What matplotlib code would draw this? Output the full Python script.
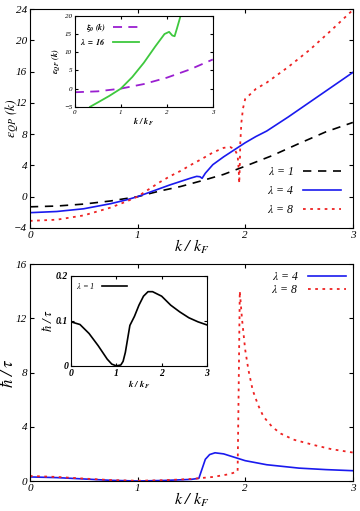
import matplotlib
matplotlib.use('Agg')
import matplotlib.pyplot as plt

plt.rcParams['font.family'] = ['Liberation Serif', 'DejaVu Serif']
plt.rcParams['font.style'] = 'italic'
plt.rcParams['mathtext.fontset'] = 'stix'
plt.rcParams['xtick.direction'] = 'in'
plt.rcParams['ytick.direction'] = 'in'
plt.rcParams['xtick.top'] = True
plt.rcParams['ytick.right'] = True

# top panel: quasiparticle energy
k1 = [0, 0.25, 0.5, 0.75, 1.0, 1.2, 1.4, 1.6, 1.8, 2.0, 2.25, 2.5, 2.75, 3.0]
e1 = [-1.3, -1.2, -0.95, -0.55, 0.0, 0.7, 1.3, 2.05, 2.85, 3.9, 5.25, 6.8, 8.3, 9.5]

k4 = [0, 0.25, 0.5, 0.75, 0.9, 1.0, 1.1, 1.2, 1.3, 1.4, 1.5, 1.55, 1.58, 1.6,
      1.63, 1.7, 1.8, 1.9, 2.0, 2.1, 2.2, 2.4, 2.6, 2.8, 3.0]
e4 = [-2.05, -1.9, -1.55, -0.9, -0.4, 0.0, 0.5, 1.0, 1.5, 1.95, 2.4, 2.6, 2.55, 2.35,
      3.0, 4.1, 5.1, 6.0, 6.9, 7.7, 8.4, 10.2, 12.1, 14.0, 15.9]

k8 = [0, 0.25, 0.5, 0.75, 0.9, 1.0, 1.1, 1.2, 1.3, 1.4, 1.5, 1.6, 1.7, 1.8, 1.86,
      1.9, 1.93, 1.94, 1.945, 1.95, 1.955, 1.965, 1.98, 2.0, 2.1, 2.2, 2.4, 2.6, 2.8, 3.0]
e8 = [-3.1, -2.95, -2.4, -1.4, -0.6, 0.0, 0.9, 1.8, 2.6, 3.3, 4.1, 4.85, 5.65, 6.25, 6.35,
      6.1, 5.3, 3.5, 1.7, 4.0, 7.0, 9.5, 11.3, 12.5, 13.8, 14.6, 16.6, 18.8, 21.3, 23.9]

# top inset
kx = [0, 0.5, 1.0, 1.5, 2.0, 2.5, 3.0]
xi0 = [-1.0, -0.75, 0.0, 1.25, 3.0, 5.25, 8.0]
k16 = [0.33, 0.5, 0.75, 1.0, 1.25, 1.5, 1.75, 1.95, 2.05, 2.12, 2.17, 2.22, 2.3, 2.35]
e16 = [-5.0, -3.8, -2.0, 0.0, 3.2, 7.1, 11.6, 15.0, 15.6, 14.6, 14.4, 16.5, 20.0, 22.0]

# bottom panel: damping
kb4 = [0, 0.25, 0.5, 0.75, 1.0, 1.25, 1.5, 1.57, 1.6, 1.63, 1.67, 1.72, 1.8, 1.9,
       2.0, 2.2, 2.5, 2.75, 3.0]
g4 = [0.3, 0.25, 0.15, 0.05, 0.0, 0.04, 0.12, 0.2, 0.9, 1.6, 1.95, 2.08, 2.0, 1.75,
      1.5, 1.2, 0.95, 0.84, 0.76]
kb8 = [0, 0.25, 0.5, 0.75, 1.0, 1.25, 1.5, 1.7, 1.85, 1.93, 1.94, 1.95, 1.97, 2.0,
       2.03, 2.07, 2.12, 2.17, 2.25, 2.33, 2.45, 2.64, 2.8, 3.0]
g8 = [0.37, 0.3, 0.18, 0.07, 0.02, 0.06, 0.15, 0.3, 0.5, 0.7, 7.0, 14.0, 12.0, 9.7,
      8.2, 6.7, 5.6, 4.75, 4.0, 3.5, 3.05, 2.65, 2.35, 2.1]

# bottom inset
kb1 = [0, 0.2, 0.4, 0.6, 0.8, 0.9, 1.0, 1.1, 1.15, 1.2, 1.25, 1.3, 1.4, 1.5, 1.6,
       1.7, 1.8, 2.0, 2.2, 2.4, 2.6, 2.8, 3.0]
g1 = [0.098, 0.092, 0.072, 0.045, 0.015, 0.004, 0.0, 0.002, 0.01, 0.03, 0.06, 0.09,
      0.11, 0.135, 0.155, 0.165, 0.165, 0.155, 0.135, 0.12, 0.107, 0.098, 0.091]

blue = '#1a1aee'
red = '#ee2222'

fig = plt.figure(figsize=(3.6, 5.11), dpi=100)

ax1 = fig.add_axes([0.083, 0.554, 0.897, 0.428])
ax1.plot(k1, e1, color='black', lw=1.2, dashes=(5, 4), label=r'$\lambda$ = 1')
ax1.plot(k4, e4, color=blue, lw=1.2, label=r'$\lambda$ = 4')
ax1.plot(k8, e8, color=red, lw=1.3, dashes=(1.5, 2.5), label=r'$\lambda$ = 8')
ax1.set_xlim(0, 3)
ax1.set_ylim(-4, 24)
ax1.set_xticks([0, 1, 2, 3])
ax1.set_yticks(range(-4, 25, 4))
ax1.tick_params(labelsize=8, length=3, pad=2)
ax1.set_xlabel(r'$k\ /\ k_F$', fontsize=11.5, labelpad=-1)
ax1.set_ylabel(r'$\varepsilon_{QP}\ (k)$', fontsize=10)
ax1.yaxis.set_label_coords(-0.027, 0.5)
ax1.legend(loc='lower right', frameon=False, markerfirst=False, fontsize=8.5,
           handlelength=3.2, labelspacing=0.6, borderaxespad=0.6)

ins1 = fig.add_axes([0.208, 0.791, 0.383, 0.178])
ins1.plot(kx, xi0, color='#9a1fd0', lw=1.3, dashes=(5, 3.5), label=r'$\mathbf{\xi_0\ (k)}$')
ins1.plot(k16, e16, color='#3ec83e', lw=1.3, label=r'$\mathbf{\lambda\ =\ 16}$')
ins1.set_xlim(0, 3)
ins1.set_ylim(-5, 20)
ins1.set_xticks([0, 1, 2, 3])
ins1.set_yticks(range(-5, 21, 5))
ins1.tick_params(labelsize=5, length=2, pad=2)
ins1.set_xlabel(r'$\mathbf{k\ /\ k_F}$', fontsize=6, labelpad=1)
ins1.set_ylabel(r'$\mathbf{\varepsilon_{QP}\ (k)}$', fontsize=6, labelpad=1)
ins1.legend(loc='upper left', frameon=False, markerfirst=False, fontsize=6,
            handlelength=3.2, borderaxespad=0.2, labelspacing=0.3)

ax2 = fig.add_axes([0.083, 0.0587, 0.897, 0.4246])
ax2.plot(kb4, g4, color=blue, lw=1.2, label=r'$\lambda$ = 4')
ax2.plot(kb8, g8, color=red, lw=1.3, dashes=(1.5, 2.5), label=r'$\lambda$ = 8')
ax2.set_xlim(0, 3)
ax2.set_ylim(0, 16)
ax2.set_xticks([0, 1, 2, 3])
ax2.set_yticks(range(0, 17, 4))
ax2.tick_params(labelsize=8, length=3, pad=2)
ax2.set_xlabel(r'$k\ /\ k_F$', fontsize=11.5, labelpad=-1)
ax2.set_ylabel(r'$\hbar\ /\ \tau$', fontsize=12)
ax2.yaxis.set_label_coords(-0.04, 0.5)
ax2.legend(loc='upper right', frameon=False, markerfirst=False, fontsize=8.5,
           handlelength=3.2, labelspacing=0.1, borderaxespad=0.2)

ins2 = fig.add_axes([0.197, 0.284, 0.378, 0.176])
ins2.plot(kb1, g1, color='black', lw=1.2, label=r'$\lambda$ = 1')
ins2.set_xlim(0, 3)
ins2.set_ylim(0, 0.2)
ins2.set_xticks([0, 1, 2, 3])
ins2.set_yticks([0, 0.1, 0.2])
ins2.set_yticklabels(['0', '0.1', '0.2'])
ins2.tick_params(labelsize=7, length=2, pad=2)
for lab in ins2.get_xticklabels() + ins2.get_yticklabels():
    lab.set_fontweight('bold')
ins2.set_xlabel(r'$\mathbf{k\ /\ k_F}$', fontsize=6.5, labelpad=1)
ins2.set_ylabel(r'$\hbar\ /\ \tau$', fontsize=9, labelpad=1)
ins2.legend(loc='upper left', frameon=False, markerfirst=False, fontsize=6,
            handlelength=3.0, borderaxespad=0.2)

fig.savefig('out.png', dpi=100)
